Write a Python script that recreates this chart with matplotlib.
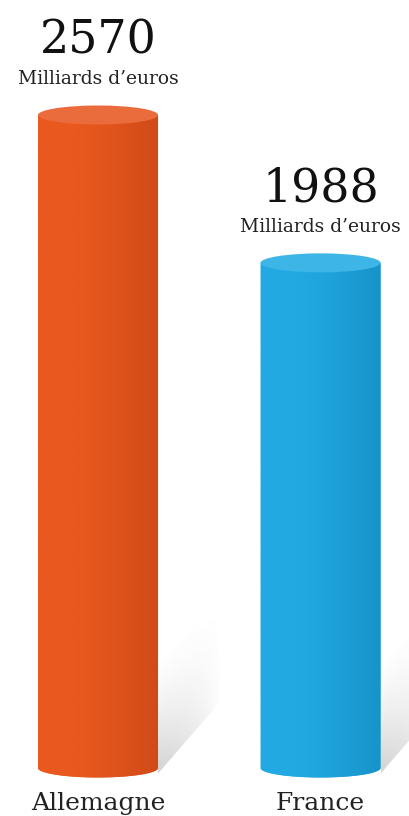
import matplotlib
matplotlib.use('Agg')
import matplotlib.pyplot as plt
import numpy as np
from matplotlib.patches import Ellipse, Polygon

# ---- data ----
countries = ['Allemagne', 'France']
values = [2570, 1988]
value_labels = ['2570', '1988']
unit_label = 'Milliards d\u2019euros'

# ---- style ----
side_colors = [('#E9591F', '#D04A18'), ('#22A9E2', '#1793C9')]
top_colors = ['#EA6B3B', '#3DB5E6']
FONT = 'DejaVu Serif'

W, H = 410, 816
fig = plt.figure(figsize=(W / 100, H / 100), dpi=100)
ax = fig.add_axes([0, 0, 1, 1])

# axis scaling: category spacing and value scale
x_pos = np.arange(len(countries))
ax.set_xlim(-0.4404, 1.402)
ax.set_ylim(-189, 3022.6)
ax.axis('off')

px_x = 1 / 222.5          # data units per pixel (x)
px_y = 2570 / 653          # data units per pixel (y)
bar_w = 120 * px_x
ell_h = 19 * px_y


def hex2rgb(h):
    h = h.lstrip('#')
    return np.array([int(h[i:i + 2], 16) / 255 for i in (0, 2, 4)])


for i, (x, v) in enumerate(zip(x_pos, values)):
    left, right = x - bar_w / 2, x + bar_w / 2
    c0, c1 = hex2rgb(side_colors[i][0]), hex2rgb(side_colors[i][1])

    # shadow cast to the right of the cylinder base
    sdx, sdy, sh = 62 * px_x, 66 * px_y, 110 * px_y
    shadow = Polygon([(right, -ell_h * 0.3), (right + sdx, sdy), (right + sdx, sdy + sh),
                      (right, sh)], closed=True, facecolor='none', edgecolor='none')
    ax.add_patch(shadow)
    ny, nx = 200, 80
    yy = np.linspace(-ell_h, sdy + sh, ny)[:, None]
    uu = np.linspace(0, 1, nx)[None, :]
    d = (yy - uu * sdy) / sh
    alpha = 0.30 * np.clip(1 - d, 0, 1) ** 1.4 * np.clip(1 - uu, 0, 1) ** 0.9
    simg = np.zeros((ny, nx, 4))
    simg[..., :3] = 0.45
    simg[..., 3] = alpha
    im = ax.imshow(simg, extent=[right, right + sdx, -ell_h, sdy + sh], origin='lower',
                   aspect='auto', zorder=1, interpolation='bilinear')
    im.set_clip_path(shadow)

    # cylinder body with horizontal gradient (sides + lower half ellipse)
    t = np.linspace(np.pi, 2 * np.pi, 60)
    arc = np.column_stack([x + bar_w / 2 * np.cos(t), ell_h / 2 * np.sin(t)])
    body_pts = np.vstack([[(left, v)], arc, [(right, v)]])
    body = Polygon(body_pts, closed=True, facecolor=side_colors[i][0], edgecolor='none', zorder=2)
    ax.add_patch(body)
    s = np.linspace(0, 1, 200)
    prof = np.clip(np.where(s < 0.3, 0.0, (s - 0.3) / 0.7), 0, 1) ** 1.2
    grad = c0[None, :] * (1 - prof[:, None]) + c1[None, :] * prof[:, None]
    gimg = np.repeat(grad[None, :, :], 2, axis=0)
    gi = ax.imshow(gimg, extent=[left, right, -ell_h, v], origin='lower', aspect='auto',
                   zorder=3, interpolation='bilinear')
    gi.set_clip_path(body)

    # top ellipse
    ax.add_patch(Ellipse((x, v), bar_w, ell_h, facecolor=top_colors[i], edgecolor='none', zorder=4))

    # value and unit labels
    ax.annotate(value_labels[i], xy=(x, v), xytext=(0, 44), textcoords='offset points',
                ha='center', va='baseline', fontsize=33, family=FONT, color='#111111', zorder=5)
    ax.annotate(unit_label, xy=(x, v), xytext=(0, 22), textcoords='offset points',
                ha='center', va='baseline', fontsize=13.5, family=FONT, color='#222222', zorder=5)

    # category label
    ax.annotate(countries[i], xy=(x, 0), xytext=(0, -30), textcoords='offset points',
                ha='center', va='baseline', fontsize=18, family=FONT, color='#222222', zorder=5)

fig.savefig('out.png', dpi=100, facecolor='white')
